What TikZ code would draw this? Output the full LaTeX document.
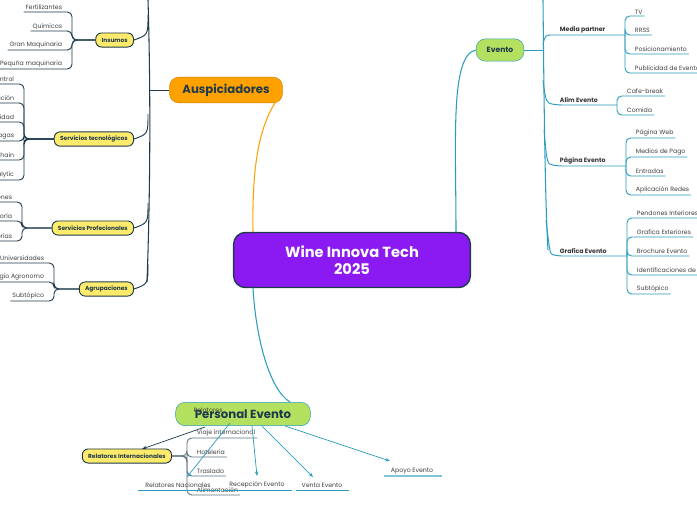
\documentclass[tikz,border=0pt]{standalone}
\usepackage{fontspec}
\setmainfont{Poppins}
\usetikzlibrary{arrows.meta}
\definecolor{navy}{HTML}{1E3A4C}
\definecolor{teal}{HTML}{2A9DBE}
\definecolor{purp}{HTML}{8B1AF2}
\definecolor{orng}{HTML}{FFA200}
\definecolor{lime}{HTML}{B3E05F}
\definecolor{yel}{HTML}{FFEB6B}
\tikzstyle{central} = [rectangle, rounded corners=10pt, minimum width=202pt, minimum height=47pt, align=center, draw=navy, line width=1.2pt, fill=purp, text=white, font=\fontsize{12.5}{15}\selectfont\bfseries]
\tikzstyle{main} = [rectangle, rounded corners=8pt, minimum height=22pt, inner xsep=11pt, draw=orng!80!black, fill=orng, text=navy, font=\fontsize{10}{11}\selectfont\bfseries]
\tikzstyle{sub} = [rectangle, rounded corners=5pt, minimum height=12pt, inner xsep=5pt, draw=navy, line width=0.8pt, fill=yel, text=navy, font=\fontsize{5}{6}\selectfont\bfseries]
\tikzstyle{leaf} = [inner sep=1.5pt, text=black!75, font=\fontsize{5.3}{6}\selectfont]
\tikzstyle{bleaf} = [inner sep=1.5pt, text=black!80, font=\fontsize{5.3}{6}\selectfont\bfseries]
\tikzstyle{nline} = [draw=navy, line width=0.8pt, rounded corners=4pt]
\tikzstyle{tline} = [draw=teal, line width=0.8pt, rounded corners=4pt]
\tikzstyle{arrow} = [draw=teal, line width=0.6pt, -{Stealth[length=4pt]}]

\begin{document}
\begin{tikzpicture}[x=0.03cm, y=-0.03cm]
	\useasboundingbox (0,0) rectangle (697,520);
	\fill[white] (0,0) rectangle (697,520);

	% Nodes
	\node (wine) [central] at (352,260) {Wine Innova Tech\\2025};
	\node (ausp) [main] at (226,90) {Auspiciadores};
	\node (evento) [main, draw=teal, fill=lime, minimum height=19pt, inner xsep=9pt, font=\fontsize{6.5}{8}\selectfont\bfseries] at (500,50) {Evento};
	\node (personal) [main, draw=teal, fill=lime, minimum height=20pt, minimum width=115pt] at (243,414) {Personal Evento};

	\node (insumos) [sub, anchor=east] at (134,40) {Insumos};
	\node (tecno) [sub, anchor=east] at (134,139) {Servicios tecnológicos};
	\node (profe) [sub, anchor=east] at (134,228) {Servicios Profecionales};
	\node (agrup) [sub, anchor=east] at (134,289) {Agrupaciones};
	\node (relint) [sub, anchor=east] at (172,456) {Relatores Internacionales};

	% Central connectors
	\draw[draw=orng, line width=0.9pt] (253,232) .. controls (252,170) and (258,130) .. (275,103);
	\draw[draw=teal, line width=0.9pt] (456,232) .. controls (456,140) and (450,55) .. (evento.west);
	\draw[draw=teal, line width=0.9pt] (253,288) .. controls (256,340) and (270,390) .. (290,402);

	% Left trunk
	\draw[nline] (ausp.west) -- (150,90);
	\draw[draw=navy, line width=0.9pt] (148,0) .. controls (151,100) and (150,200) .. (147,282);
	\foreach \b/\y in {insumos/40, tecno/139, profe/228, agrup/289}
		\draw[draw=navy, line width=0.8pt] (148,{\y-25}) .. controls (148,{\y-5}) .. (\b.east);

	% Left leaves
	\foreach \b/\bx/\list in {
		insumos/72/{Fertilizantes/12,Químicos/31,Gran Maquinaria/50,Pequña maquinaria/69},
		tecno/24/{Sistemas de Control/84,Automatización/103,Trazabilidad/122,Control de plagas/141,Blockchain/160,Analytic/180},
		profe/22/{Certificaciones/202,Consultoría/221,Asesorías/241},
		agrup/54/{Universidades/263,Colegio Agronomo/282,Subtópico/301}}{
		\foreach \t/\y [count=\i] in \list {
			\node (\b-\i) [leaf, anchor=south east] at ({\bx-8},\y) {\t};
			\draw[nline] (\b.west) -- (\bx,0 |- \b.west) |- (\b-\i.south west);
		}
	}

	% Right trunk
	\draw[tline] (evento.east) -- (543,50);
	\draw[draw=teal, line width=0.9pt] (543,0) .. controls (544,100) and (545,200) .. (548,250);
	\node (media) [bleaf, anchor=south west] at (558,35) {Media partner};
	\node (alim) [bleaf, anchor=south west] at (558,105) {Alim Evento};
	\node (pagina) [bleaf, anchor=south west] at (558,166) {Página Evento};
	\node (grafica) [bleaf, anchor=south west] at (558,256) {Grafica Evento};
	\draw[tline] (543,45) .. controls (545,35) .. (media.south west) -- (media.south east) -- (625,35);
	\draw[tline] (543,80) .. controls (546,103) .. (alim.south west) -- (617,105);
	\draw[tline] (544,130) .. controls (547,164) .. (pagina.south west) -- (626,166);
	\draw[tline] (546,220) .. controls (550,254) .. (grafica.south west) -- (627,256);

	% Right leaves
	\foreach \b/\bx/\list in {
		media/625/{TV/16,RRSS/35,Posicionamiento/54,Publicidad de Evento/73},
		alim/617/{Cafe-break/96,Comida/115},
		pagina/626/{Página Web/138,Medios de Pago/157,Entradas/176,Aplicación Redes/195},
		grafica/627/{Pendones Interiores/218,Grafica Exteriores/237,Brochure Evento/256,Identificaciones de/275,Subtópico/294}}{
		\foreach \t/\y [count=\i] in \list {
			\node (\b-\i) [leaf, anchor=south west] at ({\bx+8},\y) {\t};
			\draw[tline] (\bx,0 |- \b.south east) |- (\b-\i.south east);
		}
	}

	% Personal Evento
	\draw[draw=navy, line width=0.6pt, -{Stealth[length=4pt]}] (205,427) -- (142,449);
	\node (relat) [leaf] at (208,410) {Relatores};
	\foreach \t/\y [count=\i] in {Viaje internacional/438, Hoteleria/457, Traslado/476, Alimentación/495}{
		\node (ri-\i) [leaf, anchor=south west] at (195,\y) {\t};
		\draw[draw=navy!70, line width=0.8pt, rounded corners=4pt] (relint.east) -- (187,456) |- (ri-\i.south east);
	}
	\node (relnac) [leaf, anchor=south] at (178,490) {Relatores Nacionales};
	\node (recep) [leaf, anchor=south] at (257,490) {Recepción Evento};
	\node (venta) [leaf, anchor=south] at (322,490) {Venta Evento};
	\node (apoyo) [leaf, anchor=south] at (412,476) {Apoyo Evento};
	\draw[teal, line width=0.8pt] (138,490) -- (220,490) (223,490) -- (292,490) (296,490) -- (349,490);
	\draw[teal!60, line width=1pt] (384,476) -- (442,476);
	\draw[arrow] (230,423) -- (187,477);
	\draw[arrow] (252,426) -- (257,476);
	\draw[arrow] (262,426) -- (313,477);
	\draw[arrow] (285,426) -- (390,461);

\end{tikzpicture}
\end{document}
